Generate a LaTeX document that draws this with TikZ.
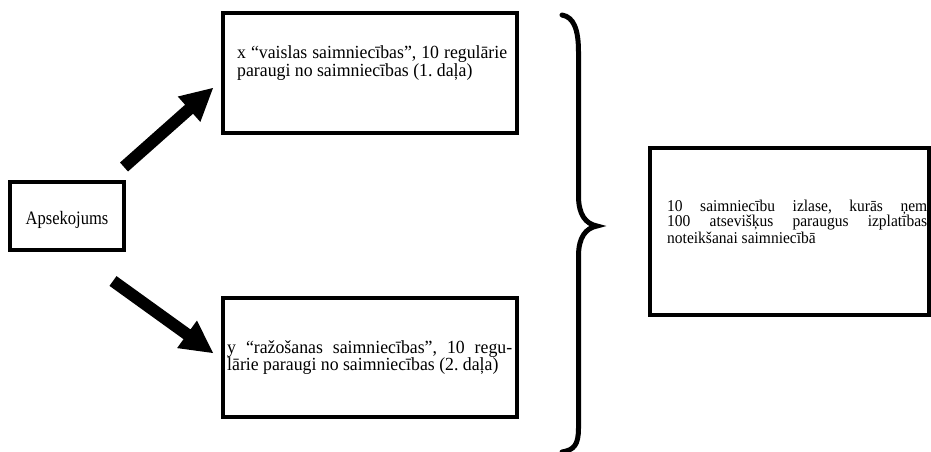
\documentclass[tikz,border=0pt]{standalone}
\usepackage{fontspec}
\setmainfont{Liberation Serif}[FakeStretch=0.96]
\newfontfamily\labelfont{Liberation Serif}[FakeStretch=0.87]
\newfontfamily\rightboxfont{Liberation Serif}[FakeStretch=0.94]
\usetikzlibrary{calc}
\newcommand\fatarrow[2]{%
  \path ($(#2)!32pt!(#1)$) coordinate (#2base);
  \fill ($(#1)!6pt!90:(#2)$) -- ($(#2base)!6pt!90:(#2)$) -- ($(#2base)!17pt!90:(#2)$)
     -- (#2) -- ($(#2base)!17pt!-90:(#2)$) -- ($(#2base)!6pt!-90:(#2)$)
     -- ($(#1)!6pt!-90:(#2)$) -- cycle;}
\begin{document}
\begin{tikzpicture}[x=1pt,y=-1pt,
  box/.style={draw, line width=3.5pt, inner sep=0pt},
  txt/.style={anchor=base west, inner sep=0pt, align=justify},
  bracestroke/.style={line width=5pt, line cap=round}]
\useasboundingbox (0,0) rectangle (931,452);
% boxes
\node[box, minimum width=114pt, minimum height=68pt] (survey) at (67,216) {};
\node[anchor=base, inner sep=0pt, font=\labelfont\fontsize{19}{19}\selectfont] (surveytext) at (67,224) {Apsekojums};
\node[box, minimum width=294pt, minimum height=120pt] (upper) at (370,73) {};
\node[box, minimum width=294pt, minimum height=119pt] (lower) at (370,357.5) {};
\node[box, minimum width=279pt, minimum height=167pt] (right) at (789.5,231.5) {};
% texts
\node[txt, text width=270pt, font=\fontsize{18.5}{14.5}\selectfont\frenchspacing] (uppertext) at (237,59)
  {x “vaislas saimniecības”, 10 regulārie\linebreak paraugi no saimniecības (1.\ daļa)};
\node[txt, text width=285pt, font=\fontsize{18.5}{13}\selectfont\frenchspacing] (lowertext) at (227,353)
  {y “ražošanas saimniecības”, 10 regu-\linebreak lārie paraugi no saimniecības (2.\ daļa)};
\node[txt, text width=260pt, font=\rightboxfont\fontsize{16.5}{13}\selectfont\frenchspacing] (righttext) at (667,211)
  {10 saimniecību izlase, kurās ņem\linebreak 100 atsevišķus paraugus izplatības\linebreak noteikšanai saimniecībā};
% arrows
\coordinate (uptail) at (124,167);
\coordinate (uptip) at (213,88);
\coordinate (lowtail) at (113,281);
\coordinate (lowtip) at (213,353);
\fatarrow{uptail}{uptip}
\fatarrow{lowtail}{lowtip}
% brace
\draw[bracestroke] (562,15) .. controls (574,17) and (578.5,30) .. (578.5,52)
  -- (578.5,196) .. controls (578.5,215) and (586,224) .. (597,226)
  .. controls (586,228) and (578.5,237) .. (578.5,256)
  -- (578.5,428) .. controls (578.5,445) and (574,450) .. (562,452);
\end{tikzpicture}
\end{document}
